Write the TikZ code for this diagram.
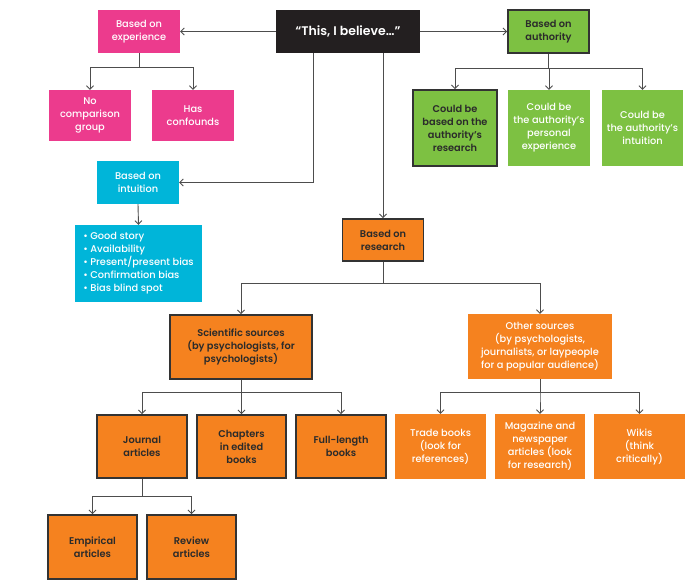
\documentclass[tikz,border=0pt]{standalone}
\usepackage{fontspec}
\setmainfont{Poppins Medium}[BoldFont={Poppins SemiBold}]
\usetikzlibrary{arrows.meta}
\definecolor{pinkbox}{HTML}{EC3B8D}
\definecolor{cyanbox}{HTML}{00B5D9}
\definecolor{greenbox}{HTML}{7DC142}
\definecolor{orangebox}{HTML}{F5821F}
\definecolor{blackbox}{HTML}{231F20}
\definecolor{edge}{HTML}{333333}
\definecolor{ink}{HTML}{2B2B2B}
\definecolor{wire}{HTML}{4D4D4D}
\begin{document}
\begin{tikzpicture}[x=1pt, y=-1pt,
  box/.style={font=\fontsize{9.8}{13}\selectfont, align=center, inner sep=2pt, text=white},
  ruled/.style={draw=edge, line width=1.8pt, text=ink},
  link/.style={draw=wire, line width=0.9pt, -{Straight Barb[length=3.5pt,width=7pt]}}]
  \useasboundingbox (0,0) rectangle (695,584);
  % top row
  \node[box, fill=blackbox, minimum width=144pt, minimum height=43pt, font=\fontsize{12.5}{14}\selectfont\bfseries] (title) at (348,31.5) {“This, I believe…”};
  \node[box, fill=pinkbox, minimum width=82pt, minimum height=43pt] (exp) at (139,31.5) {Based on\\experience};
  \node[box, ruled, fill=greenbox, minimum width=81pt, minimum height=43pt, font=\fontsize{9.8}{13}\selectfont\bfseries] (auth) at (548.5,31.5) {Based on\\authority};
  % experience
  \node[box, fill=pinkbox, minimum width=82pt, minimum height=51pt] (nocmp) at (90,115.5) {No\\comparison\\group};
  \node[box, fill=pinkbox, minimum width=82pt, minimum height=51pt] (confd) at (193,115.5) {Has\\confounds};
  % authority
  \node[box, ruled, fill=greenbox, minimum width=84pt, minimum height=76pt, font=\fontsize{9.8}{13}\selectfont\bfseries] (authres) at (455,128) {Could be\\based on the\\authority’s\\research};
  \node[box, fill=greenbox, minimum width=82pt, minimum height=76pt] (authexp) at (549,128) {Could be\\the authority’s\\personal\\experience};
  \node[box, fill=greenbox, minimum width=81pt, minimum height=76pt] (authint) at (642.5,128) {Could be\\the authority’s\\intuition};
  % intuition
  \node[box, fill=cyanbox, minimum width=82pt, minimum height=43pt] (intu) at (138,182.5) {Based on\\intuition};
  \node[box, fill=cyanbox, minimum width=127pt, minimum height=77pt, align=left] (bias) at (138.5,263.5) {• Good story\\• Availability\\• Present/present bias\\• Confirmation bias\\• Bias blind spot};
  % research
  \node[box, ruled, fill=orangebox, minimum width=81pt, minimum height=42pt, font=\fontsize{9.8}{13}\selectfont\bfseries] (rsch) at (383,240) {Based on\\research};
  \node[box, ruled, fill=orangebox, minimum width=142pt, minimum height=64pt, font=\fontsize{9.8}{13}\selectfont\bfseries] (sci) at (241,347) {Scientific sources\\(by psychologists, for\\psychologists)};
  \node[box, fill=orangebox, minimum width=144pt, minimum height=65pt] (other) at (540,346.5) {Other sources\\(by psychologists,\\journalists, or laypeople\\for a popular audience)};
  % scientific sources
  \node[box, ruled, fill=orangebox, minimum width=90pt, minimum height=63pt, font=\fontsize{9.8}{13}\selectfont\bfseries] (journ) at (142,446.5) {Journal\\articles};
  \node[box, ruled, fill=orangebox, minimum width=89pt, minimum height=63pt, font=\fontsize{9.8}{13}\selectfont\bfseries] (chapt) at (241.5,446.5) {Chapters\\in edited\\books};
  \node[box, ruled, fill=orangebox, minimum width=90pt, minimum height=63pt, font=\fontsize{9.8}{13}\selectfont\bfseries] (full) at (341,446.5) {Full-length\\books};
  \node[box, ruled, fill=orangebox, minimum width=89pt, minimum height=64pt, font=\fontsize{9.8}{13}\selectfont\bfseries] (empir) at (92.5,547) {Empirical\\articles};
  \node[box, ruled, fill=orangebox, minimum width=89pt, minimum height=64pt, font=\fontsize{9.8}{13}\selectfont\bfseries] (review) at (191.5,547) {Review\\articles};
  % other sources
  \node[box, fill=orangebox, minimum width=91pt, minimum height=65pt] (trade) at (440.5,446.5) {Trade books\\(look for\\references)};
  \node[box, fill=orangebox, minimum width=90pt, minimum height=65pt] (magaz) at (540,446.5) {Magazine and\\newspaper\\articles (look\\for research)};
  \node[box, fill=orangebox, minimum width=91pt, minimum height=65pt] (wiki) at (639.5,446.5) {Wikis\\(think\\critically)};
  % connectors
  \draw[link] (title.west) -- (exp.east);
  \draw[link] (title.east) -- (auth.west);
  \draw[link] ([xshift=-35pt]title.south) |- (intu.east);
  \draw[link] ([xshift=35pt]title.south) -- (rsch.north);
  \draw[link] (intu.south) -- (bias.north);
  \foreach \c in {nocmp,confd}
    \draw[link] (exp.south) -- ++(0,14) -| (\c.north);
  \foreach \c in {authres,authexp,authint}
    \draw[link] (auth.south) -- ++(0,15) -| (\c.north);
  \foreach \c in {sci,other}
    \draw[link] (rsch.south) -- ++(0,22) -| (\c.north);
  \foreach \c in {journ,chapt,full}
    \draw[link] (sci.south) -- ++(0,13) -| (\c.north);
  \foreach \c in {empir,review}
    \draw[link] (journ.south) -- ++(0,18) -| (\c.north);
  \foreach \c in {trade,magaz,wiki}
    \draw[link] (other.south) -- ++(0,13) -| (\c.north);
\end{tikzpicture}
\end{document}
